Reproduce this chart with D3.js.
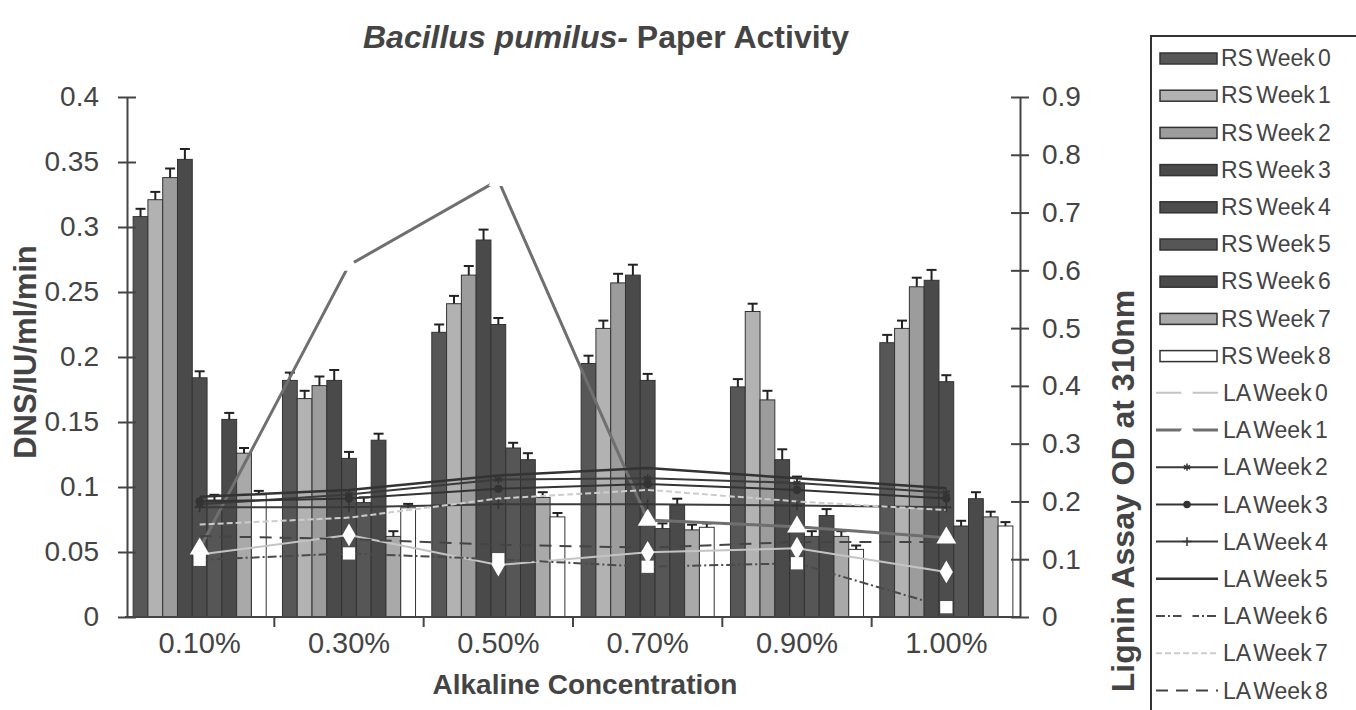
<!DOCTYPE html>
<html>
<head>
<meta charset="utf-8">
<script src="https://cdn.jsdelivr.net/npm/d3@7"></script>
<style>
  body { margin: 0; background: #fff; }
  svg { font-family: "Liberation Sans", Arial, sans-serif; }
</style>
</head>
<body>
<svg width="1356" height="710"></svg>
<script>
// categories and tick labels
const categories = ["0.10%", "0.30%", "0.50%", "0.70%", "0.90%", "1.00%"];
const leftTicks = [0, 0.05, 0.1, 0.15, 0.2, 0.25, 0.3, 0.35, 0.4];
const rightTicks = [0, 0.1, 0.2, 0.3, 0.4, 0.5, 0.6, 0.7, 0.8, 0.9];

// RS bars (left axis, DNS/IU/ml/min)
const rsNames = ["RS Week 0", "RS Week 1", "RS Week 2", "RS Week 3", "RS Week 4",
                 "RS Week 5", "RS Week 6", "RS Week 7", "RS Week 8"];
const rsWeek0 = [0.308, 0.182, 0.219, 0.195, 0.177, 0.211];
const rsWeek1 = [0.321, 0.168, 0.241, 0.222, 0.235, 0.222];
const rsWeek2 = [0.338, 0.178, 0.263, 0.257, 0.167, 0.254];
const rsWeek3 = [0.352, 0.182, 0.290, 0.263, 0.121, 0.259];
const rsWeek4 = [0.184, 0.122, 0.225, 0.182, 0.103, 0.181];
const rsWeek5 = [0.090, 0.088, 0.130, 0.068, 0.062, 0.070];
const rsWeek6 = [0.152, 0.136, 0.121, 0.086, 0.078, 0.091];
const rsWeek7 = [0.126, 0.062, 0.092, 0.067, 0.062, 0.077];
const rsWeek8 = [0.094, 0.084, 0.077, 0.069, 0.052, 0.070];
const rsErr = [0.006, 0.006, 0.007, 0.008, 0.005, 0.004, 0.005, 0.004, 0.003];

// LA lines (right axis, Lignin Assay OD at 310nm)
const laNames = ["LA Week 0", "LA Week 1", "LA Week 2", "LA Week 3", "LA Week 4",
                 "LA Week 5", "LA Week 6", "LA Week 7", "LA Week 8"];
const laWeek0 = [0.108, 0.142, 0.090, 0.112, 0.119, 0.078];
const laWeek1 = [0.118, 0.609, 0.756, 0.168, 0.156, 0.137];
const laWeek2 = [0.195, 0.212, 0.238, 0.240, 0.232, 0.215];
const laWeek3 = [0.200, 0.205, 0.222, 0.230, 0.220, 0.205];
const laWeek4 = [0.190, 0.190, 0.195, 0.195, 0.193, 0.190];
const laWeek5 = [0.208, 0.220, 0.245, 0.258, 0.240, 0.223];
const laWeek6 = [0.099, 0.110, 0.100, 0.087, 0.093, 0.017];
const laWeek7 = [0.160, 0.172, 0.205, 0.220, 0.200, 0.185];
const laWeek8 = [0.140, 0.135, 0.125, 0.120, 0.130, 0.130];

const rsValues = [rsWeek0, rsWeek1, rsWeek2, rsWeek3, rsWeek4, rsWeek5, rsWeek6, rsWeek7, rsWeek8];
const laValues = [laWeek0, laWeek1, laWeek2, laWeek3, laWeek4, laWeek5, laWeek6, laWeek7, laWeek8];

const rsFill = ["#575757", "#b2b2b2", "#9c9c9c", "#4a4a4a", "#4d4d4d", "#565656", "#4a4a4a", "#a9a9a9", "#ffffff"];
const laStyle = [
  { stroke: "#c4c4c4", width: 2,   dash: null,       symbol: d3.symbolDiamond,  size: 150, fill: "#fff" },
  { stroke: "#6f6f6f", width: 3,   dash: null,       symbol: d3.symbolTriangle, size: 170, fill: "#fff" },
  { stroke: "#3a3a3a", width: 2,   dash: null,       symbol: d3.symbolAsterisk, size: 45,  fill: "#333" },
  { stroke: "#333",    width: 2,   dash: null,       symbol: d3.symbolCircle,   size: 35,  fill: "#333" },
  { stroke: "#3a3a3a", width: 2,   dash: null,       symbol: d3.symbolPlus,     size: 35,  fill: "#333" },
  { stroke: "#333",    width: 2.5, dash: null,       symbol: null },
  { stroke: "#4a4a4a", width: 2,   dash: "9,3,2,3",  symbol: d3.symbolSquare,   size: 150, fill: "#fff" },
  { stroke: "#cccccc", width: 2,   dash: "6,3",      symbol: null },
  { stroke: "#444",    width: 2,   dash: "12,8",     symbol: null }
];

const svg = d3.select("svg");

const x0 = d3.scaleBand().domain(categories).range([125, 1021]).paddingInner(0).paddingOuter(0);
const x1 = d3.scaleBand().domain(d3.range(rsNames.length)).range([0, x0.bandwidth()]).paddingInner(0).paddingOuter(0.55);
const yL = d3.scaleLinear().domain([0, 0.4]).range([617, 97]);
const yR = d3.scaleLinear().domain([0, 0.9]).range([617, 97]);
const fmt = d => String(+d.toFixed(2));

// title
const title = svg.append("text")
  .attr("x", 606).attr("y", 48)
  .attr("text-anchor", "middle")
  .attr("font-size", 32).attr("font-weight", "bold").attr("fill", "#444");
title.append("tspan").attr("font-style", "italic").text("Bacillus pumilus-");
title.append("tspan").text(" Paper Activity");

// bars
const barG = svg.append("g");
rsValues.forEach((vals, s) => {
  barG.selectAll(null)
    .data(vals)
    .join("rect")
    .attr("x", (d, i) => x0(categories[i]) + x1(s))
    .attr("y", d => yL(d))
    .attr("width", x1.bandwidth())
    .attr("height", d => yL(0) - yL(d))
    .attr("fill", rsFill[s])
    .attr("stroke", "#333")
    .attr("stroke-width", 1);
});

// error bars
const errG = svg.append("g").attr("stroke", "#222").attr("stroke-width", 2);
rsValues.forEach((vals, s) => {
  vals.forEach((v, i) => {
    const cx = x0(categories[i]) + x1(s) + x1.bandwidth() / 2;
    errG.append("line").attr("x1", cx).attr("x2", cx).attr("y1", yL(v)).attr("y2", yL(v + rsErr[s]));
    errG.append("line").attr("x1", cx - 5).attr("x2", cx + 5).attr("y1", yL(v + rsErr[s])).attr("y2", yL(v + rsErr[s]));
  });
});

// lines
const cx = i => x0(categories[i]) + x0.bandwidth() / 2;
const line = d3.line().x((d, i) => cx(i)).y(d => yR(d));
laValues.forEach((vals, s) => {
  const st = laStyle[s];
  svg.append("path")
    .attr("d", line(vals))
    .attr("fill", "none")
    .attr("stroke", st.stroke)
    .attr("stroke-width", st.width)
    .attr("stroke-dasharray", st.dash);
});
laValues.forEach((vals, s) => {
  const st = laStyle[s];
  if (!st.symbol) return;
  svg.append("g").selectAll("path")
    .data(vals)
    .join("path")
    .attr("transform", (d, i) => `translate(${cx(i)},${yR(d)})`)
    .attr("d", d3.symbol(st.symbol, st.size))
    .attr("fill", st.fill)
    .attr("stroke", st.fill === "#fff" ? "none" : "#333")
    .attr("stroke-width", 1.5);
});

// axes
const axisColor = "#444";
const leftAxis = svg.append("g")
  .attr("transform", "translate(127,0)")
  .call(d3.axisLeft(yL).tickValues(leftTicks).tickFormat(fmt).tickSizeOuter(0).tickPadding(22));
leftAxis.selectAll(".tick line").attr("x1", -9).attr("x2", 9);
const rightAxis = svg.append("g")
  .attr("transform", "translate(1020,0)")
  .call(d3.axisRight(yR).tickValues(rightTicks).tickFormat(fmt).tickSizeOuter(0).tickPadding(16));
rightAxis.selectAll(".tick line").attr("x1", -9).attr("x2", 9);
const bottomAxis = svg.append("g")
  .attr("transform", "translate(0,617)")
  .call(d3.axisBottom(x0).tickSize(0).tickPadding(15));
bottomAxis.select(".domain").attr("d", "M125,0H1021");
bottomAxis.selectAll(null)
  .data(categories.slice(1))
  .join("line")
  .attr("x1", d => x0(d)).attr("x2", d => x0(d))
  .attr("y1", 0).attr("y2", 10)
  .attr("stroke", axisColor).attr("stroke-width", 2);

[leftAxis, rightAxis, bottomAxis].forEach(g => {
  g.selectAll(".domain").attr("stroke", axisColor).attr("stroke-width", 2);
  g.selectAll(".tick line").attr("stroke", axisColor).attr("stroke-width", 2);
  g.selectAll("text").attr("font-size", 28).attr("fill", "#444")
    .attr("font-family", "'Liberation Sans', Arial, sans-serif");
});
bottomAxis.selectAll("text").attr("font-size", 29);

// axis titles
svg.append("text")
  .attr("transform", "translate(36,352) rotate(-90)")
  .attr("text-anchor", "middle")
  .attr("font-size", 31).attr("font-weight", "bold").attr("fill", "#444")
  .text("DNS/IU/ml/min");
svg.append("text")
  .attr("transform", "translate(1134,491) rotate(-90)")
  .attr("text-anchor", "middle")
  .attr("font-size", 32).attr("font-weight", "bold").attr("fill", "#444")
  .text("Lignin Assay OD at 310nm");
svg.append("text")
  .attr("x", 585).attr("y", 694)
  .attr("text-anchor", "middle")
  .attr("font-size", 28).attr("font-weight", "bold").attr("fill", "#444")
  .text("Alkaline Concentration");

// legend
const legend = svg.append("g");
legend.append("rect")
  .attr("x", 1151).attr("y", 36).attr("width", 220).attr("height", 700)
  .attr("fill", "none").attr("stroke", "#333").attr("stroke-width", 2);
const rowY = i => 58 + i * 37.2;
rsNames.forEach((name, s) => {
  legend.append("rect")
    .attr("x", 1160).attr("y", rowY(s) - 5).attr("width", 57).attr("height", 11)
    .attr("fill", rsFill[s]).attr("stroke", "#333").attr("stroke-width", 1.5);
  legend.append("text")
    .attr("x", 1221).attr("y", rowY(s)).attr("dy", "0.36em")
    .attr("font-size", 23).attr("word-spacing", -3).attr("fill", "#444").text(name);
});
laNames.forEach((name, s) => {
  const st = laStyle[s];
  const y = rowY(s + rsNames.length);
  legend.append("line")
    .attr("x1", 1156).attr("x2", 1218).attr("y1", y).attr("y2", y)
    .attr("stroke", st.stroke).attr("stroke-width", st.width)
    .attr("stroke-dasharray", st.dash);
  if (st.symbol) {
    legend.append("path")
      .attr("transform", `translate(1187,${y})`)
      .attr("d", d3.symbol(st.symbol, st.size * 0.8))
      .attr("fill", st.fill)
      .attr("stroke", st.fill === "#fff" ? "none" : "#333")
      .attr("stroke-width", 1.5);
  }
  legend.append("text")
    .attr("x", 1223).attr("y", y).attr("dy", "0.36em")
    .attr("font-size", 23).attr("word-spacing", -3).attr("fill", "#444").text(name);
});
</script>
</body>
</html>
